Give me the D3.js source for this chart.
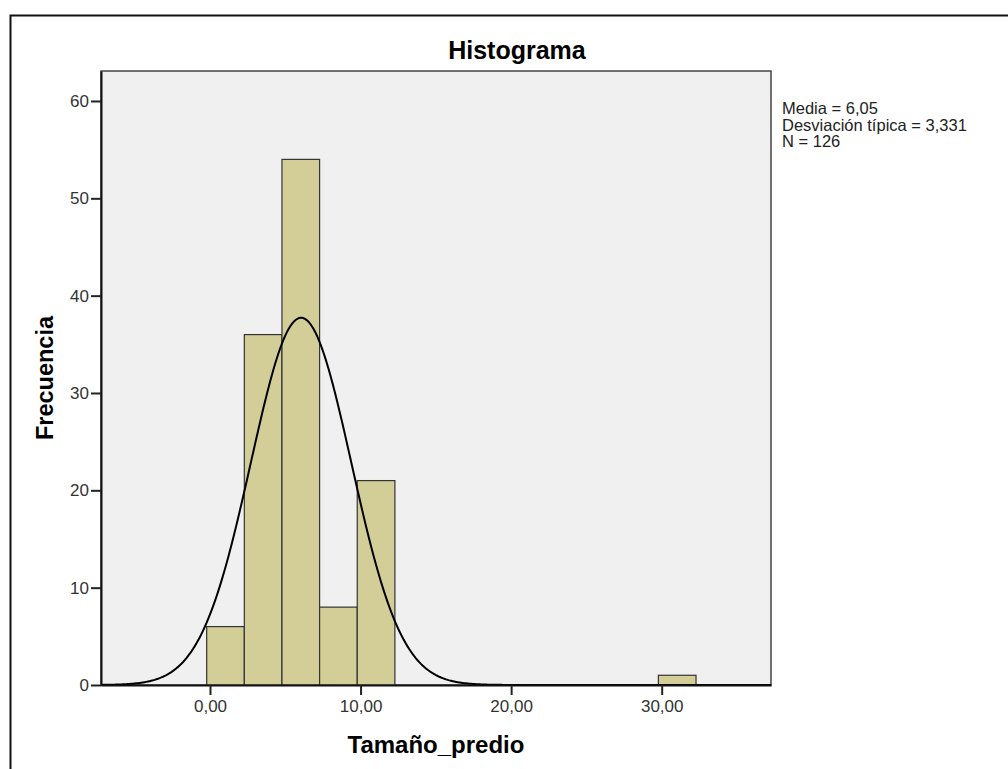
<!DOCTYPE html>
<html>
<head>
<meta charset="utf-8">
<script src="https://cdn.jsdelivr.net/npm/d3@7"></script>
<style>
  body { margin: 0; background: #fff; }
  svg { display: block; font-family: 'Liberation Sans', Arial, sans-serif; }
</style>
</head>
<body>
<svg id="chart" width="1008" height="769"></svg>
<script>
// histogram bins
const binX0 = [-0.22, 2.28, 4.78, 7.28, 9.78, 29.78]
const binX1 = [2.28, 4.78, 7.28, 9.78, 12.28, 32.28]
const counts = [6, 36, 54, 8, 21, 1]

const yTicks = [0, 10, 20, 30, 40, 50, 60]
const xTicks = [0, 10, 20, 30]

// stats printed in the chart, used for the normal curve
const media = 6.05
const desv = 3.331
const n = 126
const binWidth = 2.5
const statLines = ['Media = 6,05', 'Desviación típica = 3,331', 'N = 126']

const svg = d3.select('#chart')

// outer frame
svg.append('rect')
  .attr('x', 10.5).attr('y', 15.5)
  .attr('width', 1200).attr('height', 900)
  .attr('fill', 'none').attr('stroke', '#111').attr('stroke-width', 2)

const plotL = 101, plotR = 771, plotT = 71, plotB = 685

const x = d3.scaleLinear().domain([-7.239, 37.26]).range([plotL, plotR])
const y = d3.scaleLinear().domain([0, 63.08]).range([plotB, plotT])

svg.append('rect')
  .attr('x', plotL).attr('y', plotT)
  .attr('width', plotR - plotL).attr('height', plotB - plotT)
  .attr('fill', '#f0f0f0')
  .attr('stroke', '#444').attr('stroke-width', 1.5)

// bars
svg.append('g').selectAll('rect')
  .data(counts)
  .enter().append('rect')
  .attr('x', (d, i) => x(binX0[i]))
  .attr('y', d => y(d))
  .attr('width', (d, i) => x(binX1[i]) - x(binX0[i]))
  .attr('height', d => y(0) - y(d))
  .attr('fill', '#d3ce97')
  .attr('stroke', '#333')
  .attr('stroke-width', 1.2)

// normal curve
const dom = x.domain()
const pts = d3.range(0, 401).map(i => {
  const v = dom[0] + (dom[1] - dom[0]) * i / 400
  const z = (v - media) / desv
  return [v, n * binWidth * Math.exp(-0.5 * z * z) / (desv * Math.sqrt(2 * Math.PI))]
})
svg.append('path')
  .datum(pts)
  .attr('d', d3.line().x(d => x(d[0])).y(d => y(d[1])))
  .attr('fill', 'none')
  .attr('stroke', '#000')
  .attr('stroke-width', 2)

// axes
const yAxis = svg.append('g')
  .attr('transform', 'translate(' + plotL + ',0)')
  .call(d3.axisLeft(y).tickValues(yTicks).tickSize(10).tickSizeOuter(0).tickPadding(2))
const xAxis = svg.append('g')
  .attr('transform', 'translate(0,' + plotB + ')')
  .call(d3.axisBottom(x).tickValues(xTicks).tickSize(10).tickSizeOuter(0).tickPadding(5)
    .tickFormat(d => d3.format('.2f')(d).replace('.', ',')))

;[yAxis, xAxis].forEach(a => {
  a.select('.domain').attr('stroke', '#111').attr('stroke-width', 2)
  a.selectAll('.tick line').attr('stroke', '#222').attr('stroke-width', 2)
  a.selectAll('.tick text')
    .style('font-family', "'Liberation Sans', Arial, sans-serif")
    .style('font-size', '17px')
    .attr('fill', '#333')
})

// titles
svg.append('text')
  .attr('x', 517).attr('y', 59)
  .attr('text-anchor', 'middle')
  .style('font-size', '25px').style('font-weight', 'bold')
  .text('Histograma')

svg.append('text')
  .attr('x', (plotL + plotR) / 2).attr('y', 753)
  .attr('text-anchor', 'middle')
  .style('font-size', '24px').style('font-weight', 'bold')
  .text('Tamaño_predio')

svg.append('text')
  .attr('transform', 'translate(53,' + ((plotT + plotB) / 2) + ') rotate(-90)')
  .attr('text-anchor', 'middle')
  .style('font-size', '23.5px').style('font-weight', 'bold')
  .text('Frecuencia')

// stats box
svg.append('g').selectAll('text')
  .data(statLines)
  .enter().append('text')
  .attr('x', 782)
  .attr('y', (d, i) => 114 + i * 16.5)
  .style('font-size', '16.5px')
  .attr('fill', '#222')
  .text(d => d)
</script>
</body>
</html>
